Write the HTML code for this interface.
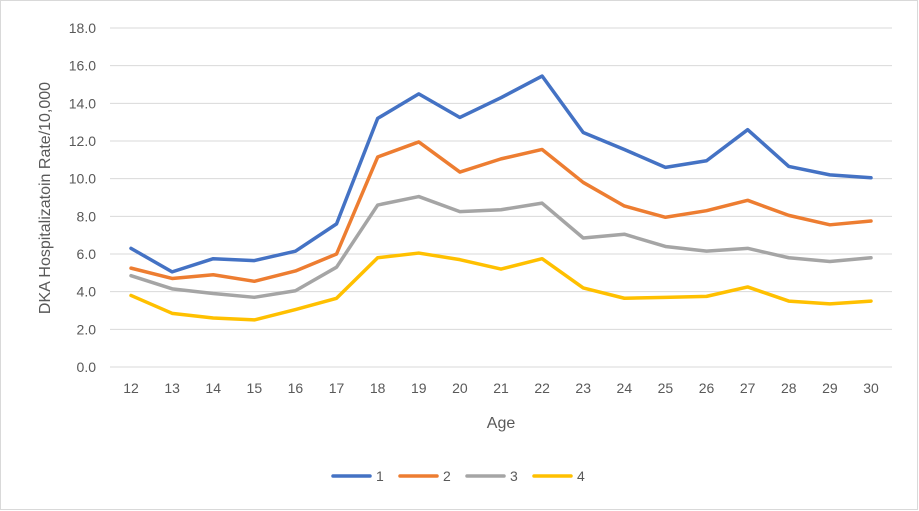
<!DOCTYPE html>
<html><head><meta charset="utf-8"><style>
body{margin:0;background:#fff}
svg{display:block;font-family:"Liberation Sans",sans-serif}
</style></head><body>
<svg id="c" width="919" height="511" xmlns="http://www.w3.org/2000/svg">
<rect x="0.5" y="0.5" width="917" height="509" fill="#fff" stroke="#d9d9d9"/>
</svg>
<script>
const s=document.getElementById('c'),NS='http://www.w3.org/2000/svg';
function el(t,a,txt){const e=document.createElementNS(NS,t);for(const k in a)e.setAttribute(k,a[k]);if(txt!==undefined)e.textContent=txt;s.appendChild(e);return e;}
const y0=367,yTop=28,x0=131,dx=(871-131)/18;
const Y=v=>y0-(y0-yTop)*v/18, X=i=>x0+dx*i;
for(let v=0;v<=18;v+=2){el('line',{x1:110,x2:892,y1:Y(v),y2:Y(v),stroke:'#d9d9d9','stroke-width':1});
el('text',{x:96,y:Y(v)+5,'text-anchor':'end','font-size':14,fill:'#595959'},v.toFixed(1));}
for(let i=0;i<19;i++)el('text',{x:X(i),y:393,'text-anchor':'middle','font-size':14,fill:'#595959'},12+i);
el('text',{x:501,y:428,'text-anchor':'middle','font-size':16,fill:'#595959'},'Age');
el('text',{x:50,y:198,'text-anchor':'middle','font-size':16,fill:'#595959',transform:'rotate(-90 50 198)'},'DKA Hospitalizatoin Rate/10,000');
const D=[
['#4472C4',[6.3,5.05,5.75,5.65,6.15,7.6,13.2,14.5,13.25,14.3,15.45,12.45,11.55,10.6,10.95,12.6,10.65,10.2,10.05]],
['#ED7D31',[5.25,4.7,4.9,4.55,5.1,6.0,11.15,11.95,10.35,11.05,11.55,9.8,8.55,7.95,8.3,8.85,8.05,7.55,7.75]],
['#A5A5A5',[4.85,4.15,3.9,3.7,4.05,5.3,8.6,9.05,8.25,8.35,8.7,6.85,7.05,6.4,6.15,6.3,5.8,5.6,5.8]],
['#FFC000',[3.8,2.85,2.6,2.5,3.05,3.65,5.8,6.05,5.7,5.2,5.75,4.2,3.65,3.7,3.75,4.25,3.5,3.35,3.5]]];
D.forEach(([c,d],k)=>{el('polyline',{points:d.map((v,i)=>X(i)+','+Y(v)).join(' '),fill:'none',stroke:c,'stroke-width':3.5,'stroke-linejoin':'round','stroke-linecap':'round'});
const lx=333+k*67;el('line',{x1:lx,x2:lx+37,y1:476,y2:476,stroke:c,'stroke-width':3.5,'stroke-linecap':'round'});
el('text',{x:lx+43,y:481,'font-size':14,fill:'#595959'},String(k+1));});
</script>
</body></html>
